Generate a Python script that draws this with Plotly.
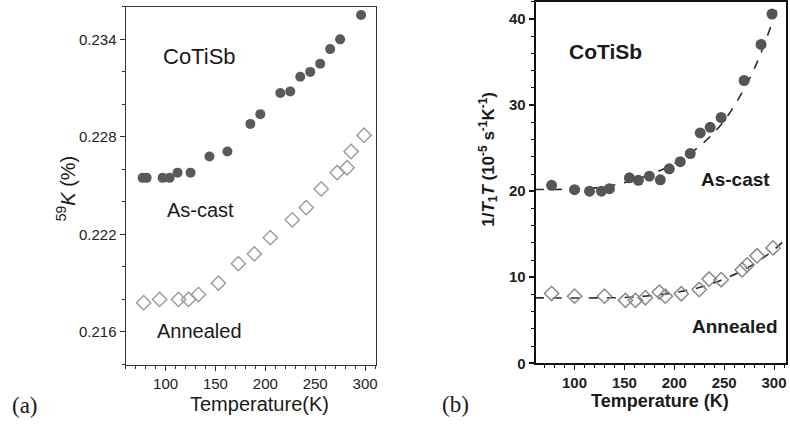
import plotly.graph_objects as go

# ---------------- data ----------------
# Panel (a): 59K (%) vs temperature
a_cast_T = [77, 81, 97, 104, 112, 125, 144, 162, 185, 195, 215, 225, 235, 245, 255, 265, 275, 296]
a_cast_K = [0.22548, 0.22548, 0.22548, 0.22548, 0.2258, 0.2258, 0.22679, 0.2271, 0.2288, 0.2294,
            0.2307, 0.2308, 0.2317, 0.2320, 0.2325, 0.2334, 0.2340, 0.2355]
a_ann_T = [78, 94, 113, 123, 133, 153, 173, 189, 205, 227, 241, 256, 272, 282, 286, 299]
a_ann_K = [0.2178, 0.2180, 0.2180, 0.2180, 0.2183, 0.2190, 0.2202, 0.2208, 0.2218, 0.2229,
           0.22365, 0.2248, 0.2258, 0.2261, 0.2271, 0.2281]

# Panel (b): 1/T1T vs temperature
b_cast_T = [77, 100, 115, 127, 135, 155, 164, 175, 186, 195, 206, 216, 226, 236, 247, 270, 287, 298]
b_cast_R = [20.69, 20.18, 20.0, 20.0, 20.3, 21.56, 21.26, 21.75, 21.33, 22.6, 23.43, 24.38,
            26.78, 27.43, 28.57, 32.87, 37.06, 40.6]
b_ann_T = [77, 100, 130, 151, 161, 171, 185, 191, 207, 225, 235, 247, 268, 273, 283, 299]
b_ann_R = [8.11, 7.8, 7.8, 7.31, 7.31, 7.62, 8.27, 7.8, 8.08, 8.57, 9.79, 9.71, 10.86, 11.43, 12.49, 13.41]

# dashed fit curves
fit_cast_T = [60, 100, 125, 150, 175, 200, 225, 250, 275, 290, 305]
fit_cast_R = [20.2, 20.25, 20.45, 21.0, 21.9, 23.2, 25.2, 28.2, 33.0, 37.0, 42.0]
fit_ann_T = [60, 150, 175, 200, 225, 250, 275, 300, 312]
fit_ann_R = [7.6, 7.65, 7.85, 8.2, 8.8, 9.8, 11.2, 13.2, 14.5]

a_yticks = [0.216, 0.222, 0.228, 0.234]
b_yticks = [0, 10, 20, 30, 40]
x_ticks = [100, 150, 200, 250, 300]

# ---------------- layout helpers ----------------
W, H = 790, 439


def px(x):
    return x / W


def py(y):
    return (H - y) / H


REG = "Liberation Sans, Arial, sans-serif"
SERIF = "Liberation Serif, Times New Roman, serif"

fig = go.Figure()

# panel (a)
fig.add_trace(go.Scatter(x=a_cast_T, y=a_cast_K, mode="markers", xaxis="x", yaxis="y",
                         marker=dict(symbol="circle", size=10, color="#5a5a5a",
                                     line=dict(width=0)), showlegend=False))
fig.add_trace(go.Scatter(x=a_ann_T, y=a_ann_K, mode="markers", xaxis="x", yaxis="y",
                         marker=dict(symbol="diamond-open", size=11, color="#9a9a9a",
                                     line=dict(width=1.4, color="#9a9a9a")), showlegend=False))

# panel (b)
fig.add_trace(go.Scatter(x=fit_cast_T, y=fit_cast_R, mode="lines", xaxis="x2", yaxis="y2",
                         line=dict(color="#2a2a2a", width=1.6, dash="dash", shape="spline"),
                         showlegend=False))
fig.add_trace(go.Scatter(x=fit_ann_T, y=fit_ann_R, mode="lines", xaxis="x2", yaxis="y2",
                         line=dict(color="#2a2a2a", width=1.6, dash="dash", shape="spline"),
                         showlegend=False))
fig.add_trace(go.Scatter(x=b_cast_T, y=b_cast_R, mode="markers", xaxis="x2", yaxis="y2",
                         marker=dict(symbol="circle", size=11, color="#555555",
                                     line=dict(width=0)), showlegend=False))
fig.add_trace(go.Scatter(x=b_ann_T, y=b_ann_R, mode="markers", xaxis="x2", yaxis="y2",
                         marker=dict(symbol="diamond-open", size=11, color="#8a8a8a",
                                     line=dict(width=1.5, color="#8a8a8a")), showlegend=False))

common_x = dict(tickvals=x_ticks, ticks="outside", ticklen=5, tickwidth=1.2,
                showline=True, mirror=True, showgrid=False, zeroline=False,
                minor=dict(dtick=10, tick0=0, ticks="outside", ticklen=3, tickwidth=1))

fig.update_layout(
    width=W, height=H, autosize=False,
    margin=dict(l=0, r=0, t=0, b=0),
    paper_bgcolor="white", plot_bgcolor="white",
    xaxis=dict(domain=[px(126), px(377)], range=[60, 311], anchor="y",
               linecolor="#333333", linewidth=1.3, tickcolor="#333333",
               tickfont=dict(family=REG, size=15, color="#222222"), **common_x),
    yaxis=dict(domain=[py(372), py(7)], range=[0.21395, 0.2360], anchor="x",
               tickvals=a_yticks, tickformat=".3f", ticks="outside", ticklen=5, tickwidth=1.2,
               showline=True, mirror=True, showgrid=False, zeroline=False,
               linecolor="#333333", linewidth=1.3, tickcolor="#333333",
               tickfont=dict(family=REG, size=15, color="#222222"),
               minor=dict(dtick=0.002, tick0=0.216, ticks="outside", ticklen=3, tickwidth=1)),
    xaxis2=dict(domain=[px(537), px(788)], range=[61, 312], anchor="y2",
                linecolor="#111111", linewidth=2, tickcolor="#111111",
                tickfont=dict(family=REG, size=15, color="#222222", weight="bold"), **common_x),
    yaxis2=dict(domain=[py(370), py(2)], range=[0, 42], anchor="x2",
                tickvals=b_yticks, ticks="outside", ticklen=5, tickwidth=1.5,
                showline=True, mirror=True, showgrid=False, zeroline=False,
                linecolor="#111111", linewidth=2, tickcolor="#111111",
                tickfont=dict(family=REG, size=15, color="#222222", weight="bold"),
                minor=dict(dtick=2, tick0=0, ticks="outside", ticklen=3, tickwidth=1.2)),
)


def note(text, x, y, size, weight="normal", family=REG, angle=0):
    fig.add_annotation(text=text, x=px(x), y=py(y), xref="paper", yref="paper",
                       showarrow=False, xanchor="center", yanchor="middle", textangle=angle,
                       font=dict(family=family, size=size, color="#1a1a1a", weight=weight))


# panel (a) texts
note("CoTiSb", 200, 58, 22)
note("As-cast", 201, 214, 20)
note("Annealed", 200, 337, 20)
note("Temperature(K)", 260, 412, 20)
note("<sup>59</sup><i>K</i> (%)", 66, 192, 20, angle=-90)
note("(a)", 25, 413, 23, family=SERIF)

# panel (b) texts
note("CoTiSb", 607, 52, 21, weight="bold")
note("As-cast", 737, 183, 19, weight="bold")
note("Annealed", 737, 333, 19, weight="bold")
note("Temperature (K)", 662, 408, 18, weight="bold")
note("1/<i>T</i><sub>1</sub><i>T</i> (10<sup>-5</sup> s<sup>-1</sup>K<sup>-1</sup>)", 489, 162, 17,
     weight="bold", angle=-90)
note("(b)", 457, 412, 23, family=SERIF)

fig.write_html("out.html")
